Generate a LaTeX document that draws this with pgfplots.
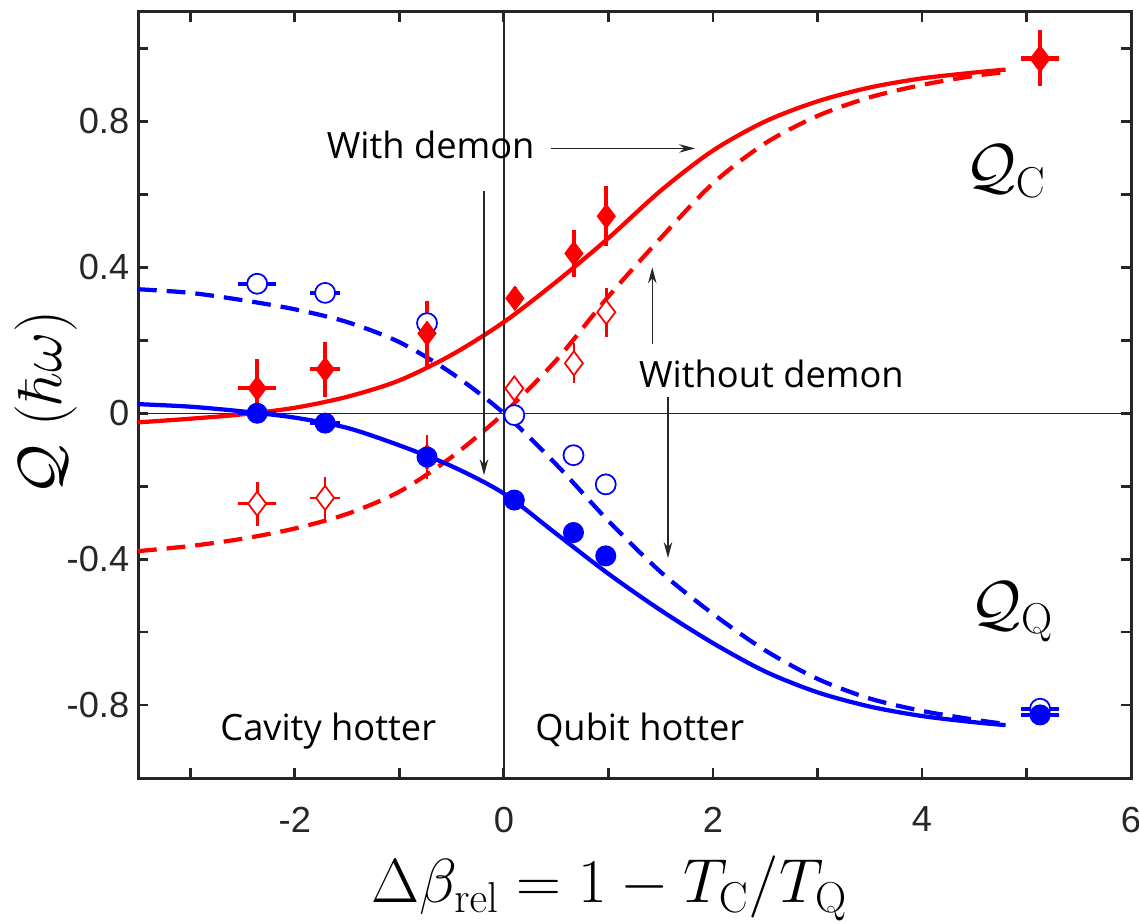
\documentclass[border=0pt]{standalone}
\usepackage[no-math]{fontspec}
\setmainfont{Liberation Sans}
\newfontfamily\annfont{Open Sans}
\usepackage{pgfplots}
\pgfplotsset{compat=1.18}
\usetikzlibrary{arrows.meta}
\definecolor{axgray}{HTML}{262626}
\definecolor{qred}{HTML}{FF0000}
\definecolor{qblue}{HTML}{0000FF}

\begin{document}
\begin{tikzpicture}
\begin{axis}[
  name=ax,
  scale only axis,
  width=397.2pt, height=306.4pt,
  xmin=-3.5, xmax=6, ymin=-1, ymax=1.1,
  xtick={-3,-2,-1,0,1,2,3,4,5,6},
  xticklabels={{},-2,{},0,{},2,{},4,{},6},
  ytick={-1,-0.8,-0.6,-0.4,-0.2,0,0.2,0.4,0.6,0.8,1},
  yticklabels={{},-0.8,{},-0.4,{},0,{},0.4,{},0.8,{}},
  tick align=inside,
  major tick length=4pt,
  tick style={axgray, line width=1.1pt},
  axis line style={axgray, line width=1.2pt},
  ticklabel style={font=\fontsize{14.5}{16}\selectfont, text=axgray},
  xticklabel style={yshift=-8pt},
  xlabel={$\Delta\beta_{\mathrm{rel}} = 1 - T_{\mathrm{C}}/T_{\mathrm{Q}}$},
  ylabel={$\mathcal{Q}\;(\hbar\omega)$},
  every axis x label/.style={at={(axis description cs:0.475,-0.163)}, anchor=base, font=\fontsize{27}{30}\selectfont},
  every axis y label/.style={at={(axis description cs:-0.0927,0.49)}, anchor=center, rotate=90, font=\fontsize{26}{30}\selectfont},
  clip=false,
]
% reference lines
\draw[axgray, line width=0.6pt] (axis cs:0,-1) -- (axis cs:0,1.1);
\draw[axgray, line width=0.6pt] (axis cs:-3.5,0) -- (axis cs:6,0);

% theory: without demon (dashed)
\addplot[qblue, smooth, line width=1.7pt, dash pattern=on 7.5pt off 4pt] coordinates {
  (-3.5,0.34) (-3.0,0.33) (-2.5,0.31) (-2.0,0.285) (-1.5,0.25) (-1.0,0.195)
  (-0.5,0.11) (0.0,0.0) (0.5,-0.14) (1.0,-0.295) (1.5,-0.435) (2.0,-0.55)
  (2.5,-0.65) (3.0,-0.728) (3.5,-0.782) (4.0,-0.816) (4.5,-0.84) (4.8,-0.852)
};
\addplot[qred, smooth, line width=1.7pt, dash pattern=on 7.5pt off 4pt] coordinates {
  (-3.5,-0.378) (-3.0,-0.364) (-2.5,-0.344) (-2.0,-0.316) (-1.5,-0.276) (-1.0,-0.215)
  (-0.5,-0.12) (0.0,0.0) (0.5,0.145) (1.0,0.32) (1.5,0.48) (2.0,0.63)
  (2.5,0.74) (3.0,0.815) (3.5,0.866) (4.0,0.90) (4.5,0.925) (4.8,0.935)
};
% theory: with demon (solid)
\addplot[qred, smooth, line width=1.7pt] coordinates {
  (-3.5,-0.025) (-3.0,-0.015) (-2.5,-0.003) (-2.0,0.015) (-1.5,0.045) (-1.0,0.09)
  (-0.5,0.16) (0.0,0.25) (0.5,0.36) (1.0,0.48) (1.5,0.61) (2.0,0.72)
  (2.5,0.80) (3.0,0.855) (3.5,0.893) (4.0,0.918) (4.5,0.934) (4.8,0.942)
};
\addplot[qblue, smooth, line width=1.7pt] coordinates {
  (-3.5,0.025) (-3.0,0.018) (-2.5,0.005) (-2.0,-0.012) (-1.5,-0.04) (-1.0,-0.088)
  (-0.5,-0.145) (0.0,-0.22) (0.5,-0.33) (1.0,-0.44) (1.5,-0.54) (2.0,-0.63)
  (2.5,-0.708) (3.0,-0.765) (3.5,-0.804) (4.0,-0.83) (4.5,-0.847) (4.8,-0.855)
};

% data: without demon (open)
\addplot[qred, only marks, mark=diamond*, mark size=4.8pt, mark options={line width=0.7pt, fill=white, draw=qred},
  error bars/.cd, x dir=both, x explicit, y dir=both, y explicit,
  error mark=none, error bar style={qred, line width=1.1pt}] coordinates {
  (-2.36,-0.248) +- (0.18,0.06)
  (-1.71,-0.232) +- (0.14,0.058)
  (-0.735,-0.12) +- (0.03,0.06)
  (0.10,0.068) +- (0.03,0.02)
  (0.67,0.137) +- (0.03,0.055)
  (0.98,0.277) +- (0.03,0.067)
  (5.13,0.97) +- (0.18,0.07)
};
\addplot[qblue, only marks, mark=*, mark size=4pt, mark options={line width=0.7pt, fill=white, draw=qblue},
  error bars/.cd, x dir=both, x explicit, y dir=both, y explicit,
  error mark=none, error bar style={qblue, line width=1.6pt}] coordinates {
  (-2.36,0.355) +- (0.18,0)
  (-1.71,0.33) +- (0.14,0)
  (-0.735,0.247) +- (0.03,0)
  (0.10,-0.005) +- (0.03,0)
  (0.666,-0.115) +- (0.03,0)
  (0.975,-0.195) +- (0.03,0)
  (5.13,-0.81) +- (0.18,0)
};
% data: with demon (filled)
\addplot[qred, only marks, mark=diamond*, mark size=4.8pt, mark options={fill=qred, draw=qred},
  error bars/.cd, x dir=both, x explicit, y dir=both, y explicit,
  error mark=none, error bar style={qred, line width=1.6pt}] coordinates {
  (-2.36,0.068) +- (0.18,0.08)
  (-1.71,0.12) +- (0.14,0.075)
  (-0.735,0.219) +- (0.03,0.09)
  (0.105,0.315) +- (0.03,0.03)
  (0.67,0.438) +- (0.03,0.064)
  (0.98,0.54) +- (0.03,0.082)
  (5.13,0.975) +- (0.18,0.077)
};
\addplot[qblue, only marks, mark=*, mark size=4pt, mark options={fill=qblue, draw=qblue},
  error bars/.cd, x dir=both, x explicit, y dir=both, y explicit,
  error mark=none, error bar style={qblue, line width=1.6pt}] coordinates {
  (-2.36,0.0) +- (0.18,0)
  (-1.71,-0.027) +- (0.14,0)
  (-0.735,-0.12) +- (0.03,0)
  (0.10,-0.238) +- (0.03,0)
  (0.666,-0.327) +- (0.03,0)
  (0.975,-0.391) +- (0.03,0)
  (5.13,-0.827) +- (0.18,0)
};

% annotations
\node[anchor=base, font=\annfont\fontsize{14.5}{16}\selectfont] at (axis cs:-0.70,0.699) {With demon};
\node[anchor=base, font=\annfont\fontsize{14.5}{16}\selectfont] at (axis cs:2.56,0.071) {Without demon};
\node[anchor=base, font=\annfont\fontsize{14.5}{16}\selectfont] at (axis cs:-1.68,-0.896) {Cavity hotter};
\node[anchor=base, font=\annfont\fontsize{14.5}{16}\selectfont] at (axis cs:1.30,-0.896) {Qubit hotter};
\node[font=\fontsize{26}{30}\selectfont] at (axis cs:4.80,0.663) {$\mathcal{Q}_{\mathrm{C}}$};
\node[font=\fontsize{26}{30}\selectfont] at (axis cs:4.86,-0.545) {$\mathcal{Q}_{\mathrm{Q}}$};
\begin{scope}[axgray, line width=0.6pt, -{Stealth[length=6.4pt,width=3.4pt]}]
\draw (axis cs:0.45,0.726) -- (axis cs:1.83,0.726);
\draw (axis cs:-0.19,0.61) -- (axis cs:-0.19,-0.17);
\draw (axis cs:1.42,0.19) -- (axis cs:1.42,0.40);
\draw (axis cs:1.57,0.044) -- (axis cs:1.57,-0.397);
\end{scope}
\end{axis}
\pgfresetboundingbox
\path[use as bounding box] ([shift={(-55.2pt,-58pt)}]ax.south west) rectangle ([shift={(3.2pt,4.8pt)}]ax.north east);
\end{tikzpicture}
\end{document}
